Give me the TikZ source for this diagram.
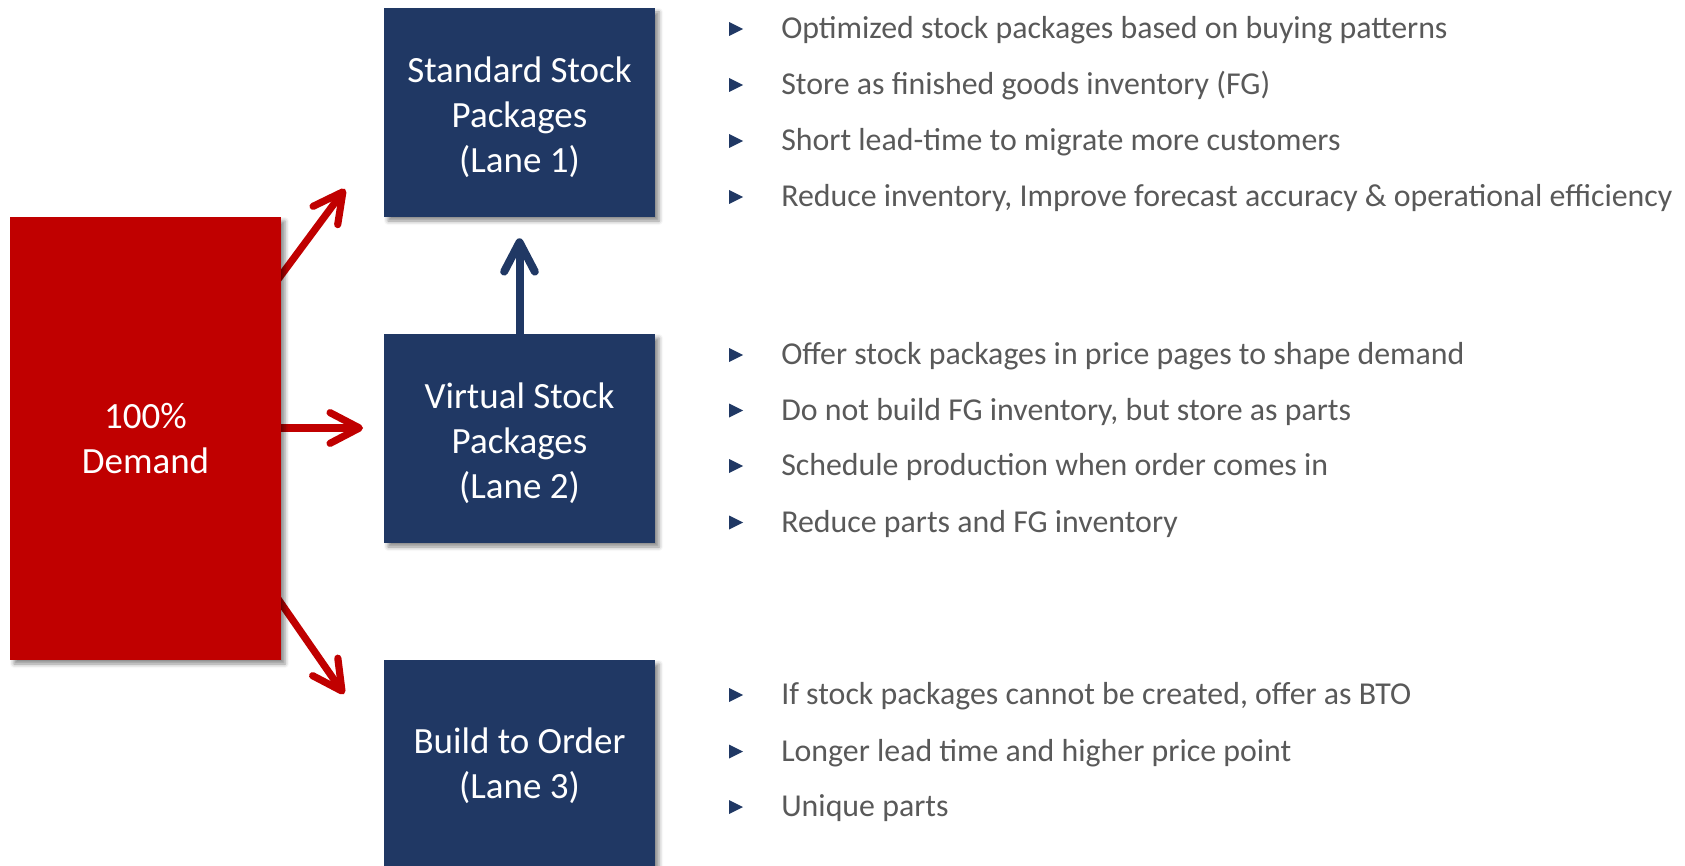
\documentclass[tikz,border=0pt]{standalone}
\usepackage{fontspec}
\setmainfont{Carlito}
\usetikzlibrary{arrows.meta,calc,shadows.blur}

\definecolor{navy}{HTML}{203864}
\definecolor{lanered}{HTML}{C00000}
\definecolor{bodygray}{HTML}{595959}

\tikzset{
  shade/.style={blur shadow={shadow xshift=3pt,shadow yshift=-3pt,shadow opacity=45,shadow blur radius=3pt}},
  lanebox/.style={rectangle,fill=navy,inner sep=0pt,
    minimum width=203.25pt,minimum height=156.75pt,shade},
  boxtext/.style={text=white,align=center,inner sep=0pt,
    font=\fontsize{27.75}{33.75}\selectfont},
  demandbox/.style={rectangle,fill=lanered,text=white,align=center,inner sep=0pt,
    minimum width=203.25pt,minimum height=332.25pt,shade,
    font=\fontsize{27.75}{33.75}\selectfont},
  redarrow/.style={draw=lanered,line width=5.4pt,
    -{Straight Barb[length=22pt,width=23pt,round]}},
  bluearrow/.style={draw=navy,line width=6pt,
    -{Straight Barb[length=22pt,width=23pt,round]}},
  item/.style={anchor=base west,inner sep=0pt,text=bodygray,
    font=\fontsize{23.9}{28}\selectfont},
}

% one bullet line: name, baseline, text
\newcommand\bulletline[3]{%
  \node[item] (#1) at (781,#2) {#3};
  \fill[navy] (729,#2-16.5) -- (743,#2-9.5) -- (729,#2-2.5) -- cycle;}

\begin{document}
\begin{tikzpicture}[x=0.75pt,y=-0.75pt]
\useasboundingbox (0,0) rectangle (1685,866);
\clip (0,0) rectangle (1685,866);

% lane boxes and their captions
\node[lanebox] (lane1) at (519.5,112.5) {};
\node[lanebox] (lane2) at (519.5,438.5) {};
\node[lanebox] (lane3) at (519.5,764.5) {};
\node[boxtext] (cap1) at ($(lane1.center)+(0,4.3)$) {Standard Stock\\Packages\\(Lane 1)};
\node[boxtext] (cap2) at ($(lane2.center)+(0,4.3)$) {Virtual Stock\\Packages\\(Lane 2)};
\node[boxtext] (cap3) at ($(lane3.center)+(0,1.5)$) {Build to Order\\(Lane 3)};

% arrow tips
\coordinate (tip1) at (345,189);
\coordinate (tip2) at (363,428);
\coordinate (tip3) at (344,694);

% demand box position, used to start the arrows behind it
\path (145.5,438.5) coordinate (dc);
\coordinate (de) at ($(dc)+(135.5,0)$);

\draw[redarrow] ($(de)+(-6,-155)$) -- (tip1);
\draw[redarrow] ($(de)+(-6,-10.5)$) -- (tip2);
\draw[redarrow] ($(de)+(-6,156)$) -- (tip3);

\node[demandbox] (demand) at (dc) {100\%\\Demand};

% virtual packages feed the standard ones
\draw[bluearrow] (lane2.north) -- ($(lane1.south)+(0,21)$);

% lane 1 notes
\bulletline{a1}{38.5}{Optimized stock packages based on buying patterns}
\bulletline{a2}{94.5}{Store as finished goods inventory (FG)}
\bulletline{a3}{150.5}{Short lead-time to migrate more customers}
\bulletline{a4}{206.5}{Reduce inventory, Improve forecast accuracy \& operational efficiency}

% lane 2 notes
\bulletline{b1}{364.5}{Offer stock packages in price pages to shape demand}
\bulletline{b2}{420}{Do not build FG inventory, but store as parts}
\bulletline{b3}{475.5}{Schedule production when order comes in}
\bulletline{b4}{532}{Reduce parts and FG inventory}

% lane 3 notes
\bulletline{c1}{704.5}{If stock packages cannot be created, offer as BTO}
\bulletline{c2}{761}{Longer lead time and higher price point}
\bulletline{c3}{816.5}{Unique parts}
\end{tikzpicture}
\end{document}
